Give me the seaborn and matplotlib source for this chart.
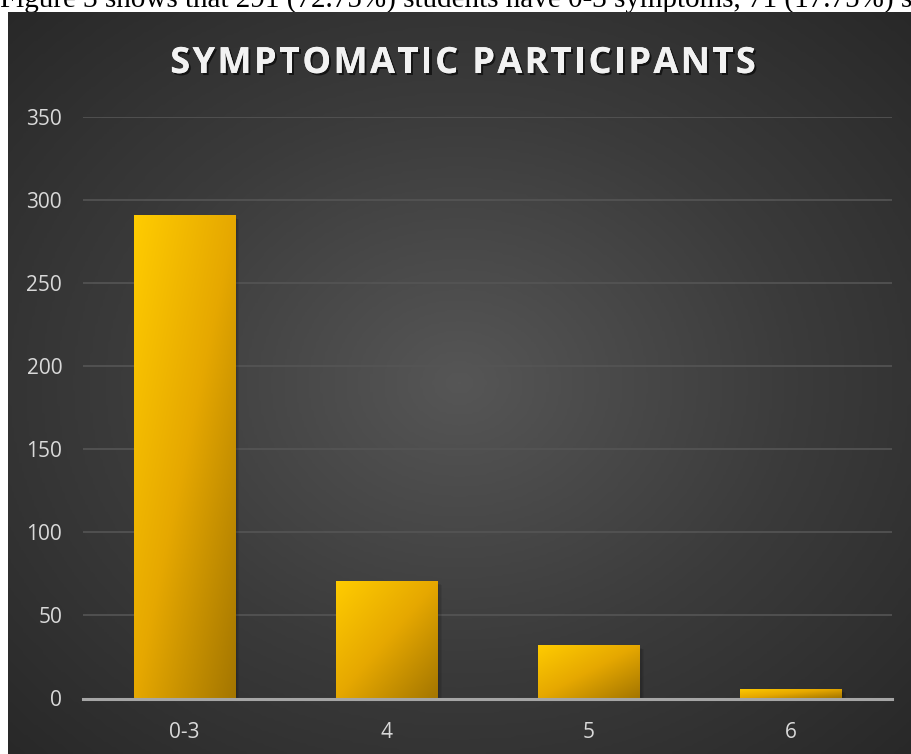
import numpy as np
import pandas as pd
import seaborn as sns
import matplotlib.pyplot as plt
import matplotlib.patheffects as pe
from matplotlib.colors import LinearSegmentedColormap
from matplotlib.patches import Rectangle

# data
groups = ['0-3', '4', '5', '6']
counts = [291, 71, 32, 6]
y_ticks = [0, 50, 100, 150, 200, 250, 300, 350]
title = 'SYMPTOMATIC PARTICIPANTS'
caption = 'Figure 3 shows that 291 (72.75%) students have 0-3 symptoms, 71 (17.75%) s'

df = pd.DataFrame({'group': groups, 'count': counts})

sns.set_theme(style='white')
plt.rcParams['font.family'] = ['Open Sans', 'DejaVu Sans']

W, H = 911, 754
fig = plt.figure(figsize=(W / 100, H / 100), dpi=100, facecolor='white')

# cut-off line of body text above the chart
fig.text(0.0, (H - 7) / H, caption, family=['Liberation Serif', 'DejaVu Serif'],
         fontsize=21, color='black', va='baseline', ha='left', zorder=-5)

# dark chart area with a radial gradient
bg = fig.add_axes([8 / W, 0, (W - 8) / W, (H - 12) / H], zorder=-1)
yy, xx = np.mgrid[0:1:300j, 0:1:360j]
r = np.sqrt(((xx - 0.5) / 0.75) ** 2 + ((yy - 0.5) / 0.75) ** 2)
bg_cmap = LinearSegmentedColormap.from_list('bg', ['#565656', '#3b3b3b', '#262626'])
bg.imshow(np.clip(r, 0, 1), cmap=bg_cmap, vmin=0, vmax=1, aspect='auto',
          extent=[0, 1, 0, 1], interpolation='bilinear')
bg.set_axis_off()

ax = fig.add_axes([83 / W, (H - 698.5) / H, 809 / W, 581.5 / H], zorder=1)
ax.set_facecolor('none')
sns.barplot(data=df, x='group', y='count', width=0.5, color='#f0b800', ax=ax, zorder=3)

ax.set_ylim(0, 350)
ax.set_xlim(-0.5, len(groups) - 0.5)
ax.set_yticks(y_ticks)
ax.set_xlabel('')
ax.set_ylabel('')
for s in ['top', 'right', 'left']:
    ax.spines[s].set_visible(False)
ax.spines['bottom'].set_color('#a6a6a6')
ax.spines['bottom'].set_linewidth(2.2)
ax.spines['bottom'].set_zorder(5)
ax.grid(axis='y', color='#555555', linewidth=1.2, zorder=0)
ax.set_axisbelow(True)
ax.tick_params(axis='both', length=0, labelsize=15, labelcolor='#d9d9d9')
ax.tick_params(axis='y', pad=15)
ax.tick_params(axis='x', pad=17)

# gold gradient fill with a soft shadow for each bar
gold = LinearSegmentedColormap.from_list('gold', ['#ffcc00', '#e6a800', '#a47600'])
grad = np.add.outer(np.linspace(0, 1, 100), np.linspace(0, 1, 100)) / 2
px_x = (len(groups)) / 809
px_y = 350 / 581.5
for p in list(ax.patches):
    x0, w, h = p.get_x(), p.get_width(), p.get_height()
    for k in range(1, 5):
        sh = Rectangle((x0 + k * 1.2 * px_x, -2 * px_y), w, h - k * 0.5 * px_y,
                       facecolor='black', alpha=0.07, edgecolor='none', zorder=2)
        ax.add_patch(sh)
    im = ax.imshow(grad, cmap=gold, vmin=0, vmax=1, aspect='auto',
                   extent=[x0, x0 + w, 0, h], origin='upper', zorder=3,
                   interpolation='bilinear')
    im.set_clip_path(p)
    p.set_facecolor('none')
    p.set_edgecolor('none')

ax.set_ylim(0, 350)
ax.set_xlim(-0.5, len(groups) - 0.5)

# chart title, laid out letter by letter to get the wide tracking of the original
title_kw = dict(fontsize=26, fontweight='bold', color='#f2f2f2', va='baseline', ha='left',
                path_effects=[pe.withSimplePatchShadow(offset=(1.5, -1.5),
                                                       shadow_rgbFace='black', alpha=0.6),
                              pe.Normal()])
renderer = fig.canvas.get_renderer()
tracking = 2.4  # px between letters


def advance(s):
    t = fig.text(0, 0, s, **title_kw)
    wd = t.get_window_extent(renderer).width
    t.remove()
    return wd


ref_w = advance('II')
widths = [advance('I' + ch + 'I') - ref_w for ch in title]
total = sum(widths) + tracking * (len(title) - 1)
x = 463 - total / 2
for ch, wd in zip(title, widths):
    if ch != ' ':
        fig.text(x / W, (H - 73) / H, ch, **title_kw)
    x += wd + tracking

fig.savefig('out.png', dpi=100, facecolor=fig.get_facecolor())
